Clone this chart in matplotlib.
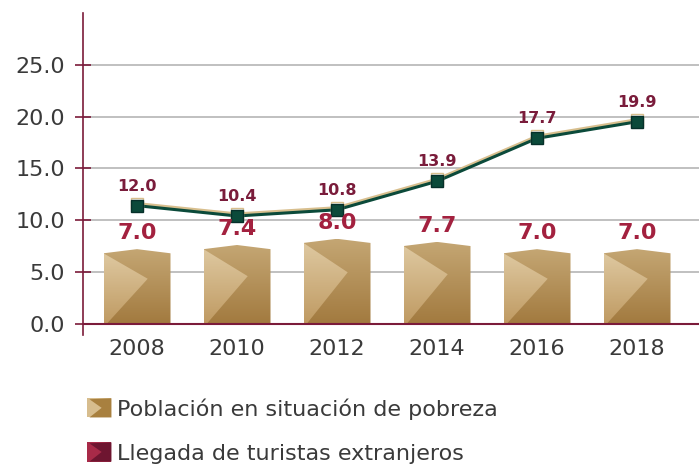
import numpy as np
import matplotlib
matplotlib.use("Agg")
import matplotlib.pyplot as plt
from matplotlib.patches import Polygon, Rectangle
from matplotlib.legend_handler import HandlerBase
import matplotlib.patheffects as pe
from matplotlib.colors import LinearSegmentedColormap

years = ["2008", "2010", "2012", "2014", "2016", "2018"]
pobreza = [7.0, 7.4, 8.0, 7.7, 7.0, 7.0]
pobreza_labels = ["7.0", "7.4", "8.0", "7.7", "7.0", "7.0"]
turistas = [11.4, 10.4, 11.0, 13.75, 17.9, 19.5]
turistas_labels = ["12.0", "10.4", "10.8", "13.9", "17.7", "19.9"]
yticks = [0, 5, 10, 15, 20, 25]
legend_labels = ["Población en situación de pobreza", "Llegada de turistas extranjeros"]

MAROON = "#7b1b3a"
BAR_LABEL = "#a3213f"
LINE_LABEL = "#7a1c3b"
GREEN = "#0b4a3a"
TEXT = "#3a3a3a"

plt.rcParams['font.family'] = ['DejaVu Sans']

fig = plt.figure(figsize=(6.99, 4.66), dpi=100)
ax = fig.add_axes([83/699, (466-335)/466, 1-83/699, (335-13)/466])
ax.set_xlim(-0.54, 5.62)
ax.set_ylim(-1.09, 30)

x = np.arange(len(years))
w = 0.67

dark_cmap = LinearSegmentedColormap.from_list("d", ["#c4a673", "#a27a3f"])
light_cmap = LinearSegmentedColormap.from_list("l", ["#dec8a0", "#bf9a62"])
grad = np.linspace(0, 1, 100).reshape(-1, 1)

for xi, v in zip(x, pobreza):
    l, r = xi - w/2, xi + w/2
    top = v - 0.2
    peak = v + 0.2
    body = Polygon([(l, 0), (l, top), (xi, peak), (r, top), (r, 0)], closed=True,
                   facecolor="none", edgecolor="none", transform=ax.transData)
    ax.add_patch(body)
    im = ax.imshow(grad, cmap=dark_cmap, aspect="auto", extent=(l, r, 0, peak),
                   origin="upper", zorder=2)
    im.set_clip_path(body)
    tri = Polygon([(l, top), (l + 0.66*w, v*0.62), (l + 0.05*w, 0), (l, 0)], closed=True,
                  facecolor="none", edgecolor="none", transform=ax.transData)
    ax.add_patch(tri)
    im2 = ax.imshow(grad, cmap=light_cmap, aspect="auto", extent=(l, r, 0, top),
                    origin="upper", zorder=2.1)
    im2.set_clip_path(tri)

for xi, v, lab in zip(x, pobreza, pobreza_labels):
    ax.annotate(lab, (xi, v), xytext=(0, 6), textcoords="offset points",
                ha="center", va="bottom", fontsize=16, fontweight="bold",
                color=BAR_LABEL, zorder=5)

ax.plot(x, turistas, color=GREEN, lw=2.2, marker="s", markersize=8.5,
        markerfacecolor=GREEN, markeredgecolor="#06302a", zorder=4,
        path_effects=[pe.SimpleLineShadow(offset=(0, 1.5), shadow_color="#d8bf8e", alpha=1),
                      pe.Normal()])

for xi, v, lab in zip(x, turistas, turistas_labels):
    ax.annotate(lab, (xi, v), xytext=(0, 14), textcoords="offset points",
                ha="center", va="center", fontsize=11.5, fontweight="bold",
                color=LINE_LABEL, zorder=5)

ax.set_yticks(yticks)
ax.set_yticklabels([f"{t:.1f}" for t in yticks], fontsize=16, color=TEXT)
ax.set_xticks(x)
ax.set_xticklabels(years, fontsize=16, color=TEXT)
ax.tick_params(axis="x", length=0, pad=3)
ax.tick_params(axis="y", direction="inout", length=12, color=MAROON, width=1.2, pad=7)
for t in yticks[1:]:
    ax.axhline(t, color="#b5b5b5", lw=1.2, zorder=1)
ax.axhline(0, color=MAROON, lw=1.5, zorder=3)
for s in ["top", "right", "bottom"]:
    ax.spines[s].set_visible(False)
ax.spines["left"].set_color(MAROON)
ax.spines["left"].set_linewidth(1.2)


class Box:
    def __init__(self, light, dark):
        self.light, self.dark = light, dark


class HandlerBox(HandlerBase):
    def create_artists(self, legend, orig_handle, xdescent, ydescent, width, height, fontsize, trans):
        x0, y0 = -xdescent, -ydescent
        r = Rectangle((x0, y0), width, height, facecolor=orig_handle.light, edgecolor="none", transform=trans)
        t = Polygon([(x0 + width, y0 + height), (x0 + width, y0), (x0 + 0.1*width, y0),
                     (x0 + 0.6*width, y0 + 0.5*height), (x0 + 0.1*width, y0 + height*0.95)],
                    closed=True, facecolor=orig_handle.dark, edgecolor="none", transform=trans)
        return [r, t]


handles = [Box("#d7bd8e", "#a8803f"), Box("#a82a48", "#6e1530")]
fig.legend(handles, legend_labels, handler_map={Box: HandlerBox()},
           loc="upper left", bbox_to_anchor=(87/699, 1 - 398/466), frameon=False,
           fontsize=16, handlelength=1.1, handleheight=0.95, handletextpad=0.27,
           labelspacing=1.03, labelcolor=TEXT, borderaxespad=0, borderpad=0)

fig.savefig("out.png", dpi=100)
